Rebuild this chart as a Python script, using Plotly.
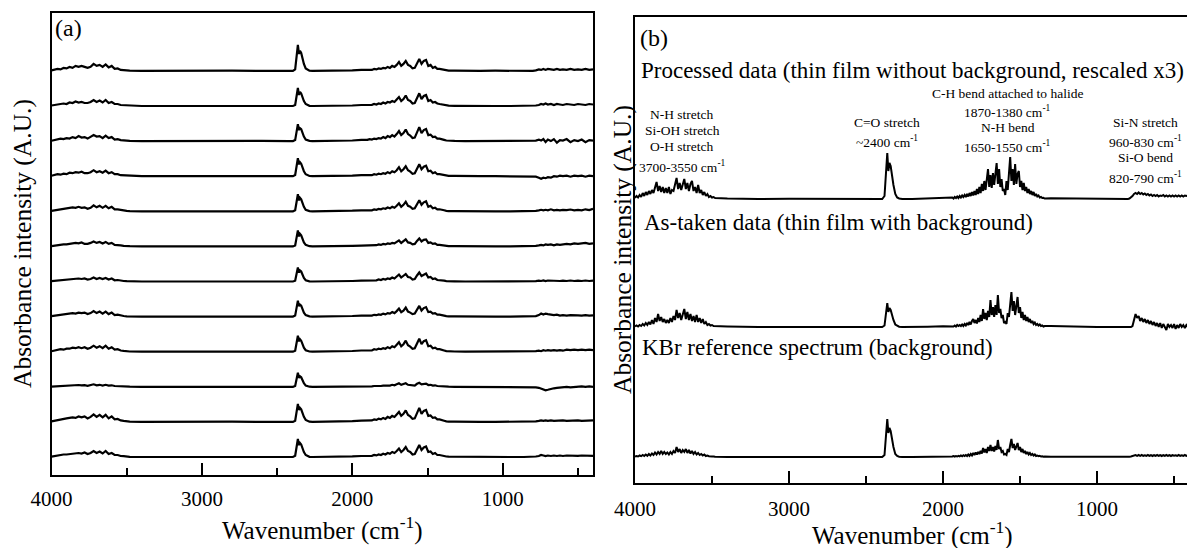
import plotly.graph_objects as go

# ---------------- data ----------------
# panel (a) wavenumber grid
WAVENUMBER = [4000, 3980, 3960, 3940, 3920, 3900, 3880, 3860, 3840, 3820, 3800, 3780, 3760, 3740, 3720,
              3700, 3680, 3660, 3640, 3620, 3600, 3580, 3560, 3540, 3520, 3500, 3480,
              3400, 3200, 3000, 2800, 2600, 2420,
              2395, 2380, 2370, 2362, 2355, 2348, 2340, 2332, 2322, 2310, 2298, 2285, 2265,
              2200, 2100, 2000, 1940,
              1900, 1885, 1870, 1855, 1840, 1825, 1810, 1795, 1780, 1765, 1750, 1735, 1720, 1705, 1690,
              1675, 1660, 1645, 1630, 1615, 1600, 1585, 1570, 1555, 1540, 1525, 1510, 1495, 1480, 1465,
              1450, 1435, 1420, 1405, 1390, 1375, 1360,
              1320, 1250, 1150, 1050, 950, 860,
              800, 780, 760, 745, 730, 715, 700, 680, 660, 640, 620, 600, 575, 550, 525, 500, 475, 450, 425, 400]

# panel (a): 12 repeated measurements, top to bottom
SPEC_A01 = [0.5, 1, 2, 1.5, 3, 2.5, 4, 3, 5, 4, 5, 4, 3, 4, 7, 5, 6, 4, 6.5, 3.5, 5, 2, 2.5, 1, 1, 0.5, 0.3,
            0, 0.2, 0, 0.2, 0, 0,
            0, 1.5, 18, 26, 17, 20, 18, 12, 7, 2.5, 1, 0.3, 0,
            0, 0, 0.5, 1,
            1, 1.5, 1, 2, 1.5, 2.5, 2, 3, 2.5, 4, 3, 5, 4, 6, 9, 5, 7, 10, 6, 5,
            2.5, 3, 8, 12, 7, 10, 11, 5, 6, 3, 4, 2, 2, 1.5, 1, 0.5, 0.3,
            0.3, 0, 0, 0.2, 0, 0,
            0, 0.5, 1.5, 1, 2, 1, 2, 1.5, 1, 2, 1, 1.5, 1, 2, 1, 1.5, 1, 2, 1, 1.5]
SPEC_A02 = [0.5, 1, 1.5, 2, 2.5, 2, 3.5, 3, 4.5, 3.5, 4, 3, 3, 4, 6, 4, 5.5, 3.5, 6, 3, 4, 2, 2, 1, 0.8, 0.4, 0.2,
            0, 0, 0.2, 0, 0, 0,
            0, 1, 12, 18, 11, 14, 12.5, 8, 5, 2, 0.8, 0.2, 0,
            0, 0.2, 0.5, 1,
            1, 1.5, 1.2, 2, 1.5, 2.5, 2, 3.5, 2.5, 4, 3.5, 5, 4, 6.5, 9, 5, 7, 10.5, 6, 5,
            2.5, 3, 8.5, 12.7, 7, 10, 11, 5, 6, 3.5, 4, 2.5, 2, 1.5, 1, 0.5, 0.3,
            0.2, 0, 0, 0, 0, 0,
            0, 0.5, 1, 2, 1.5, 2.5, 1.5, 2, 1, 2, 1.5, 1, 2, 1.5, 1, 2, 1.5, 1, 2, 1.5]
SPEC_A03 = [0.3, 1, 1.5, 2.5, 2, 3, 2.5, 4, 3, 5, 3.5, 4, 2.5, 4, 6, 4.5, 5, 3, 5.5, 3, 4, 1.5, 2, 1, 0.7, 0.3, 0.2,
            0, 0.2, 0, 0, 0.2, 0,
            0, 1, 11, 17, 11, 13, 12, 8, 4.5, 1.5, 0.6, 0.2, 0,
            0, 0.2, 0.6, 1.2,
            1.2, 2, 1.5, 2.5, 2, 3, 2.5, 4, 3, 5, 4, 6, 4.5, 7, 10, 6, 8, 11.5, 7, 5.5,
            3, 3.5, 9, 14, 8, 11, 12, 6, 6.5, 4, 4.5, 2.5, 2.5, 1.5, 1.2, 0.6, 0.3,
            0.2, 0, 0, 0, 0.2, 0,
            0, 0.5, 1.5, 0.5, 2, -1, 1.5, 0, 2, -1.5, 1, 0.5, 2, -1, 1, 0, 1.5, -1, 1, 0.5]
SPEC_A04 = [0.4, 1, 2, 1.5, 2.5, 2, 3.5, 3, 4, 3.5, 4.5, 3, 3, 4, 6, 4, 5, 3.5, 5.5, 3, 4, 2, 2, 1, 0.8, 0.4, 0.2,
            0, 0, 0.2, 0, 0, 0,
            0, 1.2, 12, 18, 12, 14, 12.5, 8.5, 5, 2, 0.8, 0.2, 0,
            0, 0, 0.5, 1,
            1, 1.4, 1, 2, 1.5, 2.5, 2, 3, 2.5, 4, 3, 5, 4, 6, 9, 5, 7, 10, 6, 4.5,
            2.5, 3, 8, 12, 7, 9.5, 10.5, 5, 5.5, 3, 4, 2, 2, 1.5, 1, 0.5, 0.3,
            0.3, 0, 0, 0, 0, 0,
            0, -0.5, -1.5, -2.5, -1.5, -2, -1, -1.5, 0, -0.5, 0.5, 0, 0.5, -0.5, 0.5, 0, 0.5, -0.5, 0.5, 0]
SPEC_A05 = [0.5, 1, 1.5, 2, 2.5, 3, 3, 4, 3.5, 4.5, 3.5, 4, 2.5, 3.5, 6, 4, 5.5, 3.5, 5.5, 3, 4.5, 2, 2, 1.2, 1, 0.5, 0.2,
            0, 0.2, 0, 0, 0, 0,
            0, 1, 11, 17, 11, 13.5, 12, 8, 4.5, 1.5, 0.6, 0.2, 0,
            0, 0.3, 0.6, 1,
            1, 1.3, 1, 1.8, 1.5, 2.3, 2, 3, 2.5, 3.8, 3, 4.5, 3.5, 5.5, 8, 4.5, 6.5, 9.5, 5.5, 4.5,
            2.5, 3, 7.5, 11, 6.5, 9, 10, 4.5, 5.5, 3, 3.5, 2, 2, 1.2, 1, 0.5, 0.2,
            0.2, 0, 0, 0, 0, 0,
            0, 0.5, 1, 1.5, 1, 1.5, 1, 2, 1, 1.5, 1, 1.5, 1.2, 1.8, 1, 1.5, 1, 2, 1.2, 2.5]
SPEC_A06 = [0.3, 0.8, 1.2, 1.5, 2, 2, 2.5, 3, 3.5, 3, 4, 2.5, 2.5, 3.5, 5, 3.5, 4.5, 3, 4.5, 2.5, 3.5, 1.5, 1.5, 1, 0.6, 0.3, 0.2,
            0, 0, 0, 0.2, 0, 0,
            0, 1, 10, 16, 10, 12.5, 11, 7.5, 4, 1.5, 0.5, 0.2, 0,
            0, 0.2, 0.5, 0.8,
            0.8, 1.2, 1, 1.5, 1.2, 2, 1.5, 2.5, 2, 3, 2.5, 3.5, 3, 4.5, 6, 3.5, 5, 7, 4, 3.5,
            2, 2.5, 5.5, 8, 5, 6.5, 7, 3.5, 4, 2.5, 3, 1.5, 1.5, 1, 0.8, 0.4, 0.2,
            0.2, 0, 0, 0, 0, 0,
            0, 0.5, 1, 1.5, 1, 2, 1.5, 2, 1, 2, 1.5, 2, 2.5, 2, 3, 2.5, 3, 3.5, 2.5, 3]
SPEC_A07 = [0.3, 0.6, 1, 1.2, 1.5, 1.8, 2, 2.5, 2.5, 3, 2.5, 3, 2, 2.5, 4, 2.5, 3.5, 2.5, 3.5, 2, 3, 1.2, 1.5, 0.8, 0.5, 0.3, 0.1,
            0, 0, 0.2, 0, 0, 0,
            0, 0.8, 9, 14, 9, 11, 10, 6.5, 3.5, 1.2, 0.5, 0.1, 0,
            0, 0.2, 0.5, 0.8,
            0.8, 1, 0.8, 1.5, 1.2, 2, 1.5, 2.5, 2, 3, 2.5, 4, 3, 5, 7, 4, 5.5, 7.5, 4.5, 4,
            2, 2.5, 6, 9, 5.5, 7, 8, 4, 4.5, 2.5, 3, 1.5, 1.5, 1, 0.8, 0.4, 0.2,
            0.2, 0, 0, 0, 0, 0,
            0, 0.3, 0.8, 0.5, 1, 0.5, 1, 0.8, 0.5, 1, 0.5, 0.8, 0.5, 1, 0.5, 0.8, 0.5, 1, 0.5, 0.8]
SPEC_A08 = [0.4, 0.8, 1.5, 2, 2, 2.5, 3, 3.5, 3, 4, 3.5, 4, 2.5, 3.5, 5.5, 3.5, 5, 3, 5, 2.5, 4, 1.5, 2, 1, 0.6, 0.3, 0.2,
            0, 0, 0, 0, 0.2, 0,
            0, 1, 10, 16, 10.5, 12, 11, 7.5, 4, 1.5, 0.5, 0.2, 0,
            0, 0.3, 0.6, 1,
            1, 1.2, 1, 1.8, 1.4, 2.2, 1.8, 3, 2.2, 3.5, 3, 4.5, 3.5, 5.5, 8, 4.5, 6, 9, 5, 4,
            2.5, 3, 7, 10.7, 6, 8.5, 9.5, 4.5, 5, 3, 3.5, 2, 2, 1.2, 1, 0.5, 0.2,
            0.2, 0, 0, 0, 0, 0,
            0, 0.5, 1.5, 3, 2, 3, 2.5, 2, 1.5, 2, 1, 1.5, 1, 1.5, 1, 1.2, 1, 1.5, 1, 1.2]
SPEC_A09 = [0.5, 1, 1.5, 2.5, 2, 3, 3, 4, 3.5, 4.5, 3.5, 4.5, 3, 4, 6, 4, 5.5, 3.5, 6, 3, 4.5, 2, 2.5, 1.2, 0.8, 0.4, 0.2,
            0, 0.2, 0, 0, 0, 0,
            0, 1, 10, 16, 10.5, 12.5, 11, 7.5, 4, 1.5, 0.5, 0.2, 0,
            0, 0.3, 0.7, 1.2,
            1.2, 1.8, 1.3, 2.5, 2, 3, 2.5, 3.5, 3, 4.5, 3.5, 5.5, 4.5, 7, 9.5, 5.5, 7.5, 11, 6.5, 5,
            3, 3.5, 8.5, 13, 7.5, 10.5, 11.5, 5.5, 6, 3.5, 4, 2.5, 2.5, 1.5, 1.2, 0.6, 0.3,
            0.2, 0, 0, 0, 0, 0,
            0, 0.5, 1, 0.5, 1.5, 1, 1.5, 1, 1.5, 1, 1.5, 1, 2, 1.5, 2, 1.5, 2, 1.5, 2, 1.5]
SPEC_A10 = [0.2, 0.4, 0.6, 0.8, 1, 1, 1.2, 1.5, 1.3, 1.8, 1.4, 1.6, 1, 1.5, 2.5, 1.5, 2, 1.3, 2, 1.2, 1.5, 0.8, 0.8, 0.5, 0.3, 0.2, 0.1,
            0, 0, 0, 0, 0, 0,
            0, 0.8, 9, 14, 9, 10.5, 9.5, 6.5, 3.5, 1.2, 0.4, 0.1, 0,
            0, 0, 0.3, 0.5,
            0.5, 0.7, 0.5, 0.8, 0.7, 1, 0.8, 1.2, 1, 1.5, 1.2, 2, 1.5, 2.5, 3.5, 2, 2.5, 3.5, 2, 1.8,
            1, 1.2, 3, 4, 2.5, 3, 3.2, 1.8, 2, 1.2, 1.5, 0.8, 0.8, 0.5, 0.4, 0.2, 0.1,
            0, 0, 0, 0, 0, 0,
            0, -0.5, -1, -2, -2.5, -3.5, -3, -2, -1.5, -1, -0.5, -0.5, 0, -0.5, 0, 0, 0.5, 0, 0.5, 0]
SPEC_A11 = [0.5, 1.2, 2, 2.5, 3, 3.5, 4, 4.5, 4, 5.5, 4.5, 5.5, 3.5, 5, 7.5, 5, 7, 4.5, 7, 3.5, 5.5, 2.5, 3, 1.5, 1, 0.5, 0.2,
            0, 0.2, 0, 0.2, 0, 0,
            0, 1.2, 12, 18, 12, 14, 12.5, 8.5, 5, 2, 0.7, 0.2, 0,
            0, 0.3, 0.7, 1.3,
            1.3, 2, 1.5, 2.5, 2, 3.2, 2.5, 4, 3, 5, 4, 6, 5, 7.5, 10, 6, 8, 11.5, 7, 5.5,
            3, 3.5, 9, 14, 8, 11, 12, 6, 6.5, 4, 4.5, 2.5, 2.5, 1.5, 1.2, 0.6, 0.3,
            0.3, 0, 0, 0, 0, 0,
            0, 0.5, 1, 1.5, 1, 1.5, 1, 1.5, 1, 1.2, 1, 1.5, 1, 1.2, 1, 1.5, 1, 1.2, 1, 1.5]
SPEC_A12 = [0.4, 1, 1.5, 2, 2.5, 2.5, 3, 3.5, 3.5, 4, 3.5, 4.5, 3, 4, 6, 4, 5.5, 3.5, 6, 3, 4, 2, 2, 1, 0.8, 0.4, 0.2,
            0, 0, 0.2, 0, 0, 0,
            0, 1.2, 12, 18, 12, 14, 12.5, 8.5, 5, 2, 0.7, 0.2, 0,
            0, 0.3, 0.6, 1,
            1, 1.5, 1.2, 2, 1.6, 2.5, 2, 3.2, 2.5, 4, 3.2, 5, 4, 6, 8.5, 5, 7, 10, 6, 5,
            2.5, 3, 8, 12, 7, 9.5, 10.5, 5, 5.5, 3, 4, 2, 2, 1.3, 1, 0.5, 0.3,
            0.2, 0, 0, 0, 0, 0,
            0, 0.5, 1, 2, 1.5, 1, 1.5, 1, 1.5, 1, 1.5, 1, 1.5, 1.2, 1.5, 1.2, 1.5, 1.2, 1.5, 1.2]

# panel (b) wavenumber grid (finer, the three spectra are larger)
WAVENUMBER_B = [4000, 3990, 3980, 3970, 3960, 3950, 3940, 3930, 3920, 3910,
                3900, 3890, 3880, 3870, 3860, 3850, 3840, 3830, 3820, 3810,
                3800, 3790, 3780, 3770, 3760, 3750, 3740, 3730, 3720, 3710,
                3700, 3690, 3680, 3670, 3660, 3650, 3640, 3630, 3620, 3610,
                3600, 3590, 3580, 3570, 3560, 3550, 3540, 3530, 3520, 3510,
                3500, 3490, 3480,
                3400, 3200, 3000, 2800, 2600, 2420,
                2395, 2380, 2370, 2362, 2355, 2348, 2340, 2332, 2322, 2310, 2298, 2285, 2265,
                2200, 2100, 2000, 1960,
                1940, 1932, 1924, 1916, 1908, 1900, 1892, 1884, 1876, 1868,
                1860, 1852, 1844, 1836, 1828, 1820, 1812, 1804, 1796, 1788,
                1780, 1772, 1764, 1756, 1748, 1740, 1732, 1724, 1716, 1708,
                1700, 1692, 1684, 1676, 1668, 1660, 1652, 1644, 1636, 1628,
                1620, 1612, 1604, 1596, 1588, 1580, 1572, 1564, 1556, 1548,
                1540, 1532, 1524, 1516, 1508, 1500, 1492, 1484, 1476, 1468,
                1460, 1452, 1444, 1436, 1428, 1420, 1412, 1404, 1396, 1388,
                1380, 1372, 1364, 1356, 1348, 1340,
                1300, 1200, 1100, 1000, 900, 840,
                800, 790, 780, 770, 760, 750, 740, 730, 720, 710,
                700, 690, 680, 670, 660, 650, 640, 630, 620, 610,
                600, 590, 580, 570, 560, 550, 540, 530, 520, 510,
                500, 490, 480, 470, 460, 450, 440, 430, 420, 410, 400]

PROCESSED = [1, 3, 1.5, 4, 2, 6, 3, 7, 4, 8,
             5, 9, 6, 12, 17, 8, 13, 7, 12, 6,
             11, 6, 12, 5, 9, 8, 14, 21, 10, 16,
             9, 14, 20, 10, 16, 8, 15, 18, 8, 12,
             6, 14, 6, 9, 4, 7, 3, 5, 2, 3,
             1.5, 2, 1,
             0.5, 0, 0.3, 0, 0.3, 0,
             0, 3, 30, 46, 28, 36, 33, 24, 14, 5, 1.5, 0.5, 0,
             0, 0.5, 1, 1.2,
             1.5, 0.5, 2, 1, 2.5, 1, 3, 1.5, 3.5, 2,
             4, 2, 5, 2.5, 6, 3, 7, 3.5, 8, 4,
             10, 5, 12, 6, 15, 8, 18, 9, 20, 30,
             12, 24, 11, 26, 14, 28, 36, 15, 30, 12,
             20, 8, 10, 4, 18, 9, 30, 42, 18, 30,
             14, 35, 15, 25, 28, 12, 18, 9, 16, 8,
             12, 6, 10, 5, 8, 4, 7, 3, 5, 2.5,
             3.5, 1.5, 2, 1, 1.2, 0.5,
             0.8, 0.5, 0.3, 0, 0.2, 0,
             0, 0.5, 1.5, 3, 5, 6, 5, 6.5, 5, 6,
             4.5, 5.5, 4, 5, 3.5, 4.5, 3, 4, 3, 4,
             2.5, 3.5, 3, 4, 2.5, 3.5, 2.5, 3.5, 2.5, 3.5,
             2.5, 3.5, 2.5, 3.5, 2.5, 3.5, 2.5, 3.5, 3, 3.5, 3]
AS_TAKEN = [0.5, 1.5, 0.5, 2, 1, 3, 1.5, 4, 2, 5,
            2.5, 7, 3, 9, 5, 13, 6, 10, 5, 8,
            4, 7, 4, 9, 5, 11, 7, 17, 9, 14,
            7, 12, 18, 8, 15, 7, 13, 6, 11, 5,
            12, 5, 9, 4, 8, 3, 5, 2, 3, 1.5,
            2, 1, 1,
            0.5, 0, 0, 0.2, 0, 0,
            0, 1.5, 16, 24, 15, 19, 17, 12, 7, 2.5, 1, 0.3, 0,
            0, 0.3, 0.8, 1,
            1, 0.5, 1.5, 0.5, 2, 1, 2, 1, 2.5, 1,
            3, 1.5, 4, 2, 5, 2.5, 6, 8, 4, 7,
            3.5, 9, 5, 12, 6, 18, 8, 14, 7, 16,
            10, 27, 12, 20, 10, 22, 12, 32, 14, 18,
            9, 12, 4, 5, 3, 14, 10, 24, 35, 16,
            26, 12, 22, 30, 14, 20, 9, 15, 7, 12,
            6, 10, 5, 8, 4, 6, 3, 4.5, 2, 3,
            1.5, 2.5, 1, 1.5, 0.5, 1,
            1, 0.5, 0.2, 0, 0, 0,
            0, 0.5, 0, 1, 6, 13, 9, 11, 6, 9,
            5, 8, 4, 7, 3, 6, 2, 5, 1, 4,
            0, 4, -1, 3, 0, -3, 3, 0, 2, -1,
            3, -2, 2, -1, 3, 0, 2, -1, 2, 0, 2]
KBR_REFERENCE = [0.3, 1, 0.5, 1.5, 0.8, 2, 1, 2.5, 1.2, 3,
                 1.5, 3.5, 2, 4.5, 2.5, 5, 3, 6, 3, 5,
                 3, 4.5, 2.5, 5, 3, 6, 4, 10, 5, 8,
                 4, 7, 5, 8, 4, 7, 3.5, 6, 3, 5,
                 2.5, 4, 2, 3, 1.5, 2.5, 1, 1.5, 0.8, 1,
                 0.5, 0.6, 0.3,
                 0, 0, 0, 0, 0, 0,
                 0, 2, 26, 38, 24, 29, 26, 18, 10, 3, 1, 0.3, 0,
                 0, 0, 0.3, 0.5,
                 0.5, 1, 0.3, 1, 0.5, 1.2, 0.6, 1.5, 0.8, 1.8,
                 1, 2, 1, 2.5, 1.2, 3, 1.5, 4, 2, 4.5,
                 2.5, 5, 3, 6, 3.5, 9, 4.5, 8, 4, 10,
                 6, 12, 6, 10, 5.5, 11, 7, 17, 8, 10,
                 5, 6, 2.5, 3, 2, 8, 5, 12, 18, 9,
                 13, 7, 11, 14, 7, 10, 5, 8, 4, 6,
                 3, 5, 2.5, 4, 2, 3, 1.5, 2.5, 1, 1.5,
                 0.8, 1.2, 0.5, 0.8, 0.3, 0.5,
                 0.3, 0.2, 0, 0, 0, 0,
                 0, 0.3, 0.5, 1, 1.5, 2, 1.2, 2, 1.2, 2,
                 1.2, 1.8, 1.2, 2, 1.2, 1.8, 1, 1.8, 1.2, 2,
                 1.2, 1.8, 1, 1.8, 1.2, 2, 1.2, 1.8, 1, 1.8,
                 1.2, 1.8, 1.2, 2, 1.2, 1.8, 1.2, 2, 1.2, 1.8, 1.5]

PANEL_A = [SPEC_A01, SPEC_A02, SPEC_A03, SPEC_A04, SPEC_A05, SPEC_A06,
           SPEC_A07, SPEC_A08, SPEC_A09, SPEC_A10, SPEC_A11, SPEC_A12]
PANEL_B = [PROCESSED, AS_TAKEN, KBR_REFERENCE]
X_TICKS = [4000, 3000, 2000, 1000]
X_MINOR = [3500, 2500, 1500, 500]

for s in PANEL_A:
    assert len(s) == len(WAVENUMBER), len(s)
for s in PANEL_B:
    assert len(s) == len(WAVENUMBER_B), (len(s), len(WAVENUMBER_B))

# ---------------- layout helpers ----------------
W, H = 1187, 548
SERIF = "Liberation Serif"


def fx(px):
    return px / W


def fy(py):
    return 1 - py / H


fig = go.Figure()

# panel (a) stacked spectra
A_SPACING = 35.1
for i, spec in enumerate(PANEL_A):
    off = 18 + A_SPACING * (len(PANEL_A) - 1 - i)
    fig.add_trace(go.Scatter(x=WAVENUMBER, y=[v + off for v in spec], mode="lines",
                             line=dict(color="black", width=2.2), xaxis="x", yaxis="y",
                             showlegend=False, hoverinfo="skip"))

# panel (b) stacked spectra
B_OFFSETS = [284, 156, 26]
for spec, off in zip(PANEL_B, B_OFFSETS):
    fig.add_trace(go.Scatter(x=WAVENUMBER_B, y=[v + off for v in spec], mode="lines",
                             line=dict(color="black", width=2), xaxis="x2", yaxis="y2",
                             showlegend=False, hoverinfo="skip"))

xcommon = dict(tickvals=X_TICKS, ticks="inside", ticklen=12, tickwidth=1.5, tickcolor="black",
               minor=dict(tickvals=X_MINOR, ticks="inside", ticklen=7, tickwidth=1.5, tickcolor="black"),
               showline=True, linewidth=1.5, linecolor="black", mirror=True,
               showgrid=False, zeroline=False, automargin=False,
               tickfont=dict(family=SERIF, size=21, color="black"))
ycommon = dict(showticklabels=False, ticks="", showline=True, linewidth=1.5, linecolor="black",
               showgrid=False, zeroline=False, automargin=False)

fig.update_layout(
    width=W, height=H, margin=dict(l=0, r=0, t=0, b=0, autoexpand=False),
    plot_bgcolor="white", paper_bgcolor="white",
    xaxis=dict(domain=[fx(51.5), fx(593)], range=[4000, 400], anchor="y",
               ticklabelstandoff=4, **xcommon),
    yaxis=dict(domain=[fy(475), fy(13)], range=[0, 462], anchor="x", mirror=True, **ycommon),
    xaxis2=dict(domain=[fx(635), 1.0], range=[4000, 416], anchor="y2",
                ticklabelstandoff=6, **xcommon),
    yaxis2=dict(domain=[fy(483), fy(17)], range=[0, 466], anchor="x2", mirror=False, **ycommon),
)

annotations = []


def add_text(text, x, y, size, xanchor="center", angle=0):
    annotations.append(dict(text=text, x=fx(x), y=fy(y), xref="paper", yref="paper",
                            xanchor=xanchor, yanchor="middle", showarrow=False, textangle=angle,
                            font=dict(family=SERIF, size=size, color="black")))


add_text("(a)", 53, 28, 24, "left")
add_text("(b)", 638, 38, 24, "left")
add_text("Processed data (thin film without background, rescaled x3)", 639, 70, 23, "left")
add_text("As-taken data (thin film with background)", 642, 222, 23, "left")
add_text("KBr reference spectrum (background)", 640, 347, 23, "left")

for txt, yy in [("N-H stretch", 114), ("Si-OH stretch", 131), ("O-H stretch", 147),
                ("3700-3550 cm<sup>-1</sup>", 166)]:
    add_text(txt, 682, yy, 13.5)
for txt, yy in [("C=O stretch", 123), ("~2400 cm<sup>-1</sup>", 141)]:
    add_text(txt, 887, yy, 13.5)
for txt, yy in [("C-H bend attached to halide", 93), ("1870-1380 cm<sup>-1</sup>", 112),
                ("N-H bend", 128), ("1650-1550 cm<sup>-1</sup>", 147)]:
    add_text(txt, 1008, yy, 13.5)
for txt, yy in [("Si-N stretch", 123), ("960-830 cm<sup>-1</sup>", 141), ("Si-O bend", 158),
                ("820-790 cm<sup>-1</sup>", 177)]:
    add_text(txt, 1145, yy, 13.5)

add_text("Wavenumber (cm<sup>-1</sup>)", 322, 528, 25)
add_text("Wavenumber (cm<sup>-1</sup>)", 912, 533, 25)
add_text("Absorbance intensity (A.U.)", 22, 244, 25.5, angle=-90)
add_text("Absorbance intensity (A.U.)", 622, 250, 25.5, angle=-90)

fig.update_layout(annotations=annotations)

fig.write_html("out.html", config={"displayModeBar": False},
               post_script="document.body.style.margin='0';")
